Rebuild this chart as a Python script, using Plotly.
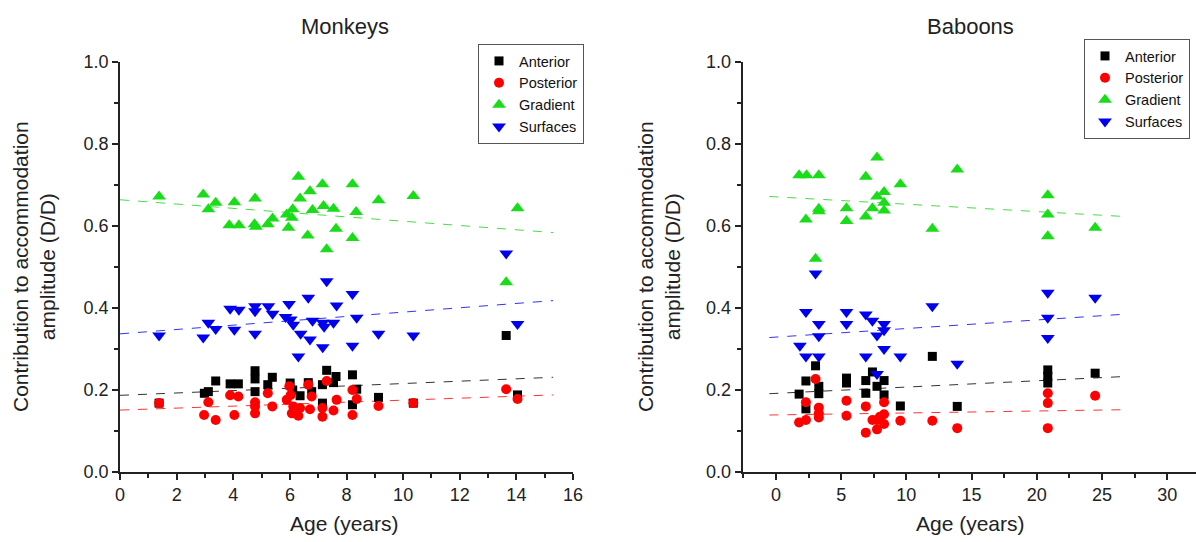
import plotly.graph_objects as go

# ---------------- Monkeys data ----------------
m_ant_age = [1.38, 2.98, 3.12, 3.38, 3.89, 4.18, 4.77, 4.77, 4.77, 5.22, 5.38, 6.01, 6.10, 6.36, 6.65, 6.77,
             7.15, 7.30, 7.63, 7.54, 7.15, 8.21, 8.36, 8.21, 9.13, 10.36, 13.64, 14.04]
m_ant_val = [0.168, 0.192, 0.196, 0.222, 0.215, 0.215, 0.247, 0.227, 0.196, 0.213, 0.231, 0.217, 0.200, 0.186,
             0.218, 0.196, 0.213, 0.248, 0.233, 0.218, 0.168, 0.237, 0.202, 0.164, 0.182, 0.168, 0.333, 0.188]

m_pos_age = [1.38, 2.97, 3.38, 3.12, 3.89, 4.18, 4.04, 4.77, 4.77, 4.77, 5.22, 5.38, 5.98, 6.03, 5.89, 6.12,
             6.07, 6.30, 6.36, 6.65, 6.77, 6.71, 7.15, 7.15, 7.30, 7.54, 7.65, 8.21, 8.36, 8.21, 9.13, 10.36,
             13.64, 14.04]
m_pos_val = [0.168, 0.139, 0.127, 0.170, 0.187, 0.184, 0.139, 0.170, 0.160, 0.143, 0.192, 0.160, 0.209, 0.188,
             0.176, 0.160, 0.143, 0.137, 0.156, 0.213, 0.184, 0.153, 0.156, 0.135, 0.222, 0.150, 0.176, 0.200,
             0.178, 0.139, 0.161, 0.168, 0.202, 0.178]

m_gra_age = [1.38, 2.94, 3.38, 3.12, 4.04, 4.77, 6.30, 6.71, 7.15, 8.21, 6.36, 6.10, 5.89, 6.07, 6.80, 7.19,
             7.54, 8.34, 9.13, 10.36, 14.04, 3.86, 4.20, 4.75, 4.80, 5.22, 5.39, 5.95, 6.63, 7.63, 8.21, 7.30,
             13.64]
m_gra_val = [0.672, 0.677, 0.657, 0.641, 0.658, 0.667, 0.720, 0.685, 0.702, 0.702, 0.667, 0.641, 0.628, 0.620,
             0.639, 0.649, 0.642, 0.634, 0.663, 0.673, 0.643, 0.602, 0.602, 0.604, 0.598, 0.604, 0.618, 0.596,
             0.577, 0.593, 0.571, 0.543, 0.463]

m_sur_age = [1.38, 2.94, 3.12, 3.38, 3.89, 4.20, 4.04, 4.77, 4.77, 4.77, 5.24, 5.39, 5.97, 5.85, 6.03, 6.12,
             6.38, 6.30, 6.65, 6.80, 6.71, 7.16, 7.21, 7.54, 7.16, 7.30, 7.65, 8.21, 8.36, 8.21, 9.13, 10.36,
             13.64, 14.04]
m_sur_val = [0.333, 0.328, 0.364, 0.349, 0.398, 0.396, 0.347, 0.404, 0.392, 0.337, 0.404, 0.386, 0.410, 0.378,
             0.372, 0.359, 0.337, 0.282, 0.425, 0.369, 0.323, 0.364, 0.354, 0.364, 0.304, 0.465, 0.406, 0.434,
             0.376, 0.308, 0.337, 0.333, 0.533, 0.361]

# linear-fit line end points
m_fit_age = [0.0, 15.3]
m_fit_ant = [0.187, 0.231]
m_fit_pos = [0.151, 0.188]
m_fit_gra = [0.664, 0.584]
m_fit_sur = [0.337, 0.418]

# ---------------- Baboons data ----------------
b_ant_age = [3.04, 2.30, 1.78, 3.29, 3.29, 2.30, 5.41, 5.41, 6.89, 6.89, 7.40, 7.75, 8.29, 8.29, 9.54, 11.99,
             13.90, 20.84, 20.84, 20.84, 24.47]
b_ant_val = [0.259, 0.222, 0.190, 0.209, 0.191, 0.154, 0.229, 0.217, 0.223, 0.192, 0.244, 0.209, 0.223, 0.188,
             0.161, 0.282, 0.160, 0.249, 0.233, 0.217, 0.241]

b_pos_age = [3.04, 2.30, 1.78, 2.30, 3.29, 3.29, 3.29, 5.41, 5.41, 6.89, 6.89, 7.40, 7.75, 7.75, 8.29, 8.29,
             8.29, 7.98, 9.54, 11.99, 13.90, 20.84, 20.84, 20.84, 24.47]
b_pos_val = [0.227, 0.170, 0.121, 0.127, 0.157, 0.143, 0.133, 0.174, 0.137, 0.160, 0.096, 0.127, 0.104, 0.127,
             0.170, 0.141, 0.117, 0.135, 0.125, 0.125, 0.107, 0.192, 0.168, 0.107, 0.186]

b_gra_age = [1.78, 2.35, 3.29, 7.75, 6.89, 9.54, 13.90, 8.29, 7.75, 8.29, 8.29, 7.40, 6.89, 5.41, 5.41, 3.29,
             3.29, 2.30, 11.99, 20.84, 20.84, 20.84, 24.47, 3.04]
b_gra_val = [0.724, 0.724, 0.724, 0.767, 0.720, 0.702, 0.738, 0.683, 0.672, 0.657, 0.638, 0.643, 0.623, 0.643,
             0.612, 0.642, 0.636, 0.616, 0.593, 0.675, 0.628, 0.575, 0.596, 0.520]

b_sur_age = [3.04, 2.30, 3.29, 3.29, 1.84, 2.30, 3.29, 5.41, 5.41, 6.89, 7.40, 8.29, 8.29, 7.75, 8.29, 6.89,
             9.54, 7.75, 11.99, 13.90, 20.84, 20.84, 20.84, 24.47]
b_sur_val = [0.484, 0.390, 0.361, 0.331, 0.308, 0.282, 0.282, 0.390, 0.361, 0.384, 0.369, 0.361, 0.346, 0.333,
             0.300, 0.282, 0.282, 0.239, 0.404, 0.264, 0.437, 0.376, 0.327, 0.425]

b_fit_age = [-0.5, 26.8]
b_fit_ant = [0.191, 0.233]
b_fit_pos = [0.139, 0.152]
b_fit_gra = [0.672, 0.623]
b_fit_sur = [0.328, 0.385]

series_names = ["Anterior", "Posterior", "Gradient", "Surfaces"]
x_ticks_left = [0, 2, 4, 6, 8, 10, 12, 14, 16]
x_ticks_right = [0, 5, 10, 15, 20, 25, 30]
y_ticks = [0.0, 0.2, 0.4, 0.6, 0.8, 1.0]

# ---------------- styling ----------------
FONT = "Liberation Sans, Arial, sans-serif"
W, H = 1196, 542
colors = ["#000000", "#ff0000", "#19dd19", "#0000ee"]
line_colors = ["#333333", "#ff3333", "#44dd44", "#3333ee"]
symbols = ["square", "circle", "triangle-up", "triangle-down"]
sizes = [9, 10, 12, 12]

fig = go.Figure()

panels = [
    ("x", "y", "legend",
     [(m_ant_age, m_ant_val), (m_pos_age, m_pos_val), (m_gra_age, m_gra_val), (m_sur_age, m_sur_val)],
     m_fit_age, [m_fit_ant, m_fit_pos, m_fit_gra, m_fit_sur]),
    ("x2", "y2", "legend2",
     [(b_ant_age, b_ant_val), (b_pos_age, b_pos_val), (b_gra_age, b_gra_val), (b_sur_age, b_sur_val)],
     b_fit_age, [b_fit_ant, b_fit_pos, b_fit_gra, b_fit_sur]),
]

for xa, ya, leg, pts, fit_x, fits in panels:
    for i in range(4):
        fig.add_trace(go.Scatter(
            x=fit_x, y=fits[i], mode="lines", xaxis=xa, yaxis=ya,
            line=dict(color=line_colors[i], width=1, dash="dash"),
            showlegend=False, hoverinfo="skip"))
    for i in range(4):
        fig.add_trace(go.Scatter(
            x=pts[i][0], y=pts[i][1], mode="markers", name=series_names[i],
            xaxis=xa, yaxis=ya, legend=leg,
            marker=dict(symbol=symbols[i], color=colors[i], size=sizes[i], line=dict(width=0))))

def px_x(p):
    return p / W

def px_y(p):
    return (H - p) / H

axis_common = dict(
    showline=True, linecolor="#222222", linewidth=1.5, mirror=False, automargin=False,
    showgrid=False, zeroline=False, ticks="outside", ticklen=6, tickwidth=1.5, tickcolor="#222222",
    tickfont=dict(family=FONT, size=18, color="#222222"),
)
minor_common = dict(ticks="outside", ticklen=4, tickwidth=1.5, tickcolor="#222222", tick0=0)
ymin_dom, ymax_dom = px_y(472), px_y(62)

legend_common = dict(xanchor="left", yanchor="top", bgcolor="white", bordercolor="#555555", borderwidth=1,
                     font=dict(family=FONT, size=14.5, color="#111111"), itemwidth=30, tracegroupgap=0)

fig.update_layout(
    width=W, height=H,
    margin=dict(l=0, r=0, t=0, b=0, autoexpand=False),
    paper_bgcolor="white", plot_bgcolor="white",
    showlegend=True,
    xaxis=dict(domain=[px_x(120), px_x(573)], range=[0, 16], tickvals=x_ticks_left,
               ticktext=[str(v) for v in x_ticks_left], minor=dict(dtick=1, **minor_common),
               anchor="y", **axis_common),
    yaxis=dict(domain=[ymin_dom, ymax_dom], range=[0, 1], tickvals=y_ticks,
               ticktext=[f"{v:.1f}" for v in y_ticks], minor=dict(dtick=0.1, **minor_common),
               anchor="x", **axis_common),
    xaxis2=dict(domain=[px_x(742.5), 1.0], range=[-2.56, 32.2], tickvals=x_ticks_right,
                ticktext=[str(v) for v in x_ticks_right], minor=dict(dtick=2.5, **minor_common),
                anchor="y2", **axis_common),
    yaxis2=dict(domain=[ymin_dom, ymax_dom], range=[0, 1], tickvals=y_ticks,
                ticktext=[f"{v:.1f}" for v in y_ticks], minor=dict(dtick=0.1, **minor_common),
                anchor="x2", **axis_common),
    legend=dict(x=px_x(478), y=px_y(44), **legend_common),
    legend2=dict(x=px_x(1084), y=px_y(39), **legend_common),
)

ann_font = dict(family=FONT, size=21, color="#222222")
ann_base = dict(xref="paper", yref="paper", xanchor="center", yanchor="middle", showarrow=False)
annotations = [
    dict(text="Monkeys", x=px_x(345), y=px_y(27), font=dict(family=FONT, size=22, color="#222222"), **ann_base),
    dict(text="Baboons", x=px_x(970), y=px_y(27), font=dict(family=FONT, size=22, color="#222222"), **ann_base),
    dict(text="Age (years)", x=px_x(345), y=px_y(523), font=ann_font, **ann_base),
    dict(text="Age (years)", x=px_x(970), y=px_y(523), font=ann_font, **ann_base),
    dict(text="Contribution to accommodation<br>amplitude (D/D)", x=px_x(34), y=px_y(267),
         textangle=-90, font=ann_font, **ann_base),
    dict(text="Contribution to accommodation<br>amplitude (D/D)", x=px_x(659), y=px_y(267),
         textangle=-90, font=ann_font, **ann_base),
]
fig.update_layout(annotations=annotations)

fig.write_html("out.html", config={"displayModeBar": False},
               post_script="document.body.style.margin='0px';")
